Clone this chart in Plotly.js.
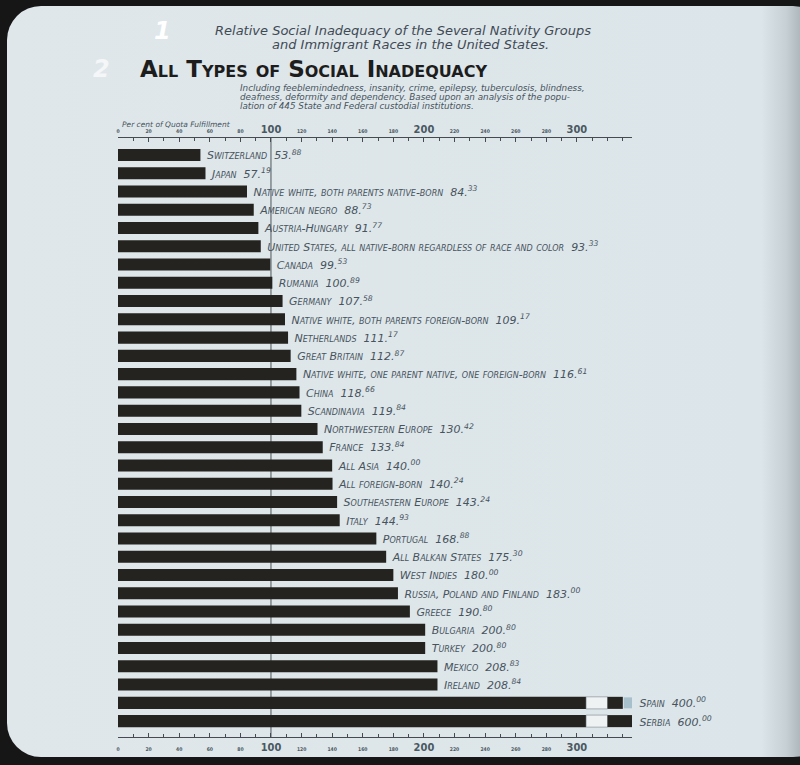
<!DOCTYPE html>
<html>
<head>
<meta charset="utf-8">
<script src="https://cdn.plot.ly/plotly-3.0.1.min.js"></script>
<style>
  html, body { margin:0; padding:0; width:800px; height:765px; overflow:hidden; background:#161616; }
  #panel { position:absolute; left:7px; top:6px; width:820px; height:751px; border-radius:34px;
           background: linear-gradient(to right, #dfe7ea 0%, #dce5e9 92%, #c6d0d5 95%, #9ba5aa 98%, #7d868b 100%); }
  #chart { position:absolute; left:0; top:0; width:800px; height:765px; }
</style>
</head>
<body>
<div id="panel"></div>
<div id="chart"></div>
<script>
// ---------------- data ----------------
const categories = [
  "Switzerland", "Japan", "Native white, both parents native-born", "American negro",
  "Austria-Hungary", "United States, all native-born regardless of race and color",
  "Canada", "Rumania", "Germany", "Native white, both parents foreign-born",
  "Netherlands", "Great Britain", "Native white, one parent native, one foreign-born",
  "China", "Scandinavia", "Northwestern Europe", "France", "All Asia", "All foreign-born",
  "Southeastern Europe", "Italy", "Portugal", "All Balkan States", "West Indies",
  "Russia, Poland and Finland", "Greece", "Bulgaria", "Turkey", "Mexico", "Ireland",
  "Spain", "Serbia"
];
const values = [
  53.88, 57.19, 84.33, 88.73,
  91.77, 93.33,
  99.53, 100.89, 107.58, 109.17,
  111.17, 112.87, 116.61,
  118.66, 119.84, 130.42, 133.84, 140.00, 140.24,
  143.24, 144.93, 168.88, 175.30, 180.00,
  183.00, 190.80, 200.80, 200.80, 208.83, 208.84,
  400.00, 600.00
];
const tickValues = [0,20,40,60,80,100,120,140,160,180,200,220,240,260,280,300];
const axisTitle = "Per cent of Quota Fulfillment";

// ---------------- axis-break display settings ----------------
const BREAK_START = 306, BREAK_END = 320, DISPLAY_END = 336, SPAIN_DARK_END = 330;

// plot-area geometry (pixels) for placing free text
const W = 800, H = 765, ML = 118, MR = 168, MT = 138, MB = 28;
const PW = W - ML - MR, PH = H - MT - MB;

// ---------------- build ----------------
function label(name, v) {
  const s = v.toFixed(2).split(".");
  return "\u00a0" + name + "\u00a0\u00a0" + s[0] + ".<sup>" + s[1] + "</sup>";
}
const broken = values.map(v => v > DISPLAY_END);
const mainLen = values.map((v, i) => broken[i] ? BREAK_START : v);
const mainText = values.map((v, i) => broken[i] ? "" : label(categories[i], v));
const bCats = categories.filter((c, i) => broken[i]);
const bVals = values.filter((v, i) => broken[i]);

const DARK = "#24231f";
const TXT = "#47535d";
const textFont = {family: "DejaVu Sans", size: 11, style: "italic", variant: "small-caps", color: TXT};

const traces = [
  {type: "bar", orientation: "h", y: categories, x: mainLen, width: 0.66,
   marker: {color: DARK}, text: mainText, textposition: "outside", cliponaxis: false,
   constraintext: "none", textfont: textFont, hoverinfo: "skip"},
  {type: "bar", orientation: "h", y: bCats, x: bCats.map(() => BREAK_END - BREAK_START),
   base: bCats.map(() => BREAK_START), width: 0.66,
   marker: {color: "#eef2f3", line: {color: "#7b858b", width: 0.6}}, hoverinfo: "skip"},
  {type: "bar", orientation: "h", y: bCats,
   x: bCats.map(c => (c === "Spain" ? SPAIN_DARK_END : DISPLAY_END) - BREAK_END),
   base: bCats.map(() => BREAK_END), width: 0.66, marker: {color: DARK}, hoverinfo: "skip"},
  {type: "bar", orientation: "h", y: ["Spain"], x: [DISPLAY_END - SPAIN_DARK_END - 0.6],
   base: [SPAIN_DARK_END + 0.6], width: 0.6, marker: {color: "#a8c0cc"}, hoverinfo: "skip"},
  {type: "scatter", mode: "markers", x: [0], y: [categories[0]], xaxis: "x2",
   marker: {opacity: 0}, hoverinfo: "skip", showlegend: false}
];

const tickText = tickValues.map(v => (v % 100 === 0 && v > 0)
  ? String(v) : '<span style="font-size:5px">' + v + '</span>');

const axisCommon = {
  range: [0, DISPLAY_END], showgrid: false, zeroline: false, showline: true,
  linecolor: "#454b50", linewidth: 1, tickvals: tickValues, ticktext: tickText,
  ticks: "inside", ticklen: 4, tickcolor: "#454b50", tickwidth: 1,
  minor: {dtick: 10, tick0: 0, ticks: "inside", ticklen: 3, tickcolor: "#454b50", tickwidth: 1},
  tickfont: {family: "DejaVu Sans Condensed", size: 11, color: "#4a5862", weight: "bold"},
  fixedrange: true
};

const subFont = {family: "DejaVu Sans", size: 8.8, color: TXT};
const annotations = [
  {text: "<i>Relative Social Inadequacy of the Several Nativity Groups</i>", x: 403, y: 30},
  {text: "<i>and Immigrant Races in the United States.</i>", x: 410, y: 45},
  {text: "<b>All Types of Social Inadequacy</b>", x: 313, y: 69,
   font: {family: "DejaVu Sans", size: 23, variant: "small-caps", color: "#1c1d1c"}},
  {text: "<i>Including feeblemindedness, insanity, crime, epilepsy, tuberculosis, blindness,</i>",
   x: 238, y: 88, xanchor: "left", font: subFont},
  {text: "<i>deafness, deformity and dependency. Based upon an analysis of the popu-</i>",
   x: 238, y: 97, xanchor: "left", font: subFont},
  {text: "<i>lation of 445 State and Federal custodial institutions.</i>",
   x: 238, y: 106, xanchor: "left", font: subFont},
  {text: "<i>" + axisTitle + "</i>", x: 120, y: 124, xanchor: "left",
   font: {family: "DejaVu Sans", size: 7.5, color: TXT}},
  {text: "<b><i>1</i></b>", x: 162, y: 31, font: {family: "DejaVu Sans", size: 24, color: "#ffffff"}},
  {text: "<b><i>2</i></b>", x: 101, y: 69, font: {family: "DejaVu Sans", size: 24, color: "#f4f6f7"}}
].map(a => Object.assign({xref: "paper", yref: "paper", showarrow: false, yanchor: "middle",
   xanchor: "center", font: {family: "DejaVu Sans", size: 13, color: "#3f4a55"}}, a,
   {x: (a.x - ML) / PW, y: (H - MB - a.y) / PH}));

// labels for the broken bars
bCats.forEach((c, i) => {
  annotations.push({text: label(c, bVals[i]), x: DISPLAY_END, y: c, xref: "x", yref: "y",
    xanchor: "left", xshift: 2, showarrow: false, font: textFont});
});

const layout = {
  width: W, height: H,
  margin: {l: ML, r: MR, t: MT, b: MB},
  paper_bgcolor: "rgba(0,0,0,0)", plot_bgcolor: "rgba(0,0,0,0)",
  barmode: "overlay", showlegend: false,
  xaxis: Object.assign({}, axisCommon, {side: "bottom", anchor: "y"}),
  xaxis2: Object.assign({}, axisCommon, {side: "top", overlaying: "x", anchor: "y"}),
  yaxis: {type: "category", range: [31.87, -0.93], showticklabels: false, showgrid: false,
          zeroline: false, showline: false, ticks: "", fixedrange: true},
  shapes: [{type: "line", xref: "x", yref: "paper", x0: 100, x1: 100, y0: 0, y1: 1,
            line: {color: "#4e555a", width: 1}, layer: "below"}],
  annotations: annotations,
  font: {family: "DejaVu Sans", color: TXT}
};

Plotly.newPlot("chart", traces, layout, {displayModeBar: false, staticPlot: true});
</script>
</body>
</html>
